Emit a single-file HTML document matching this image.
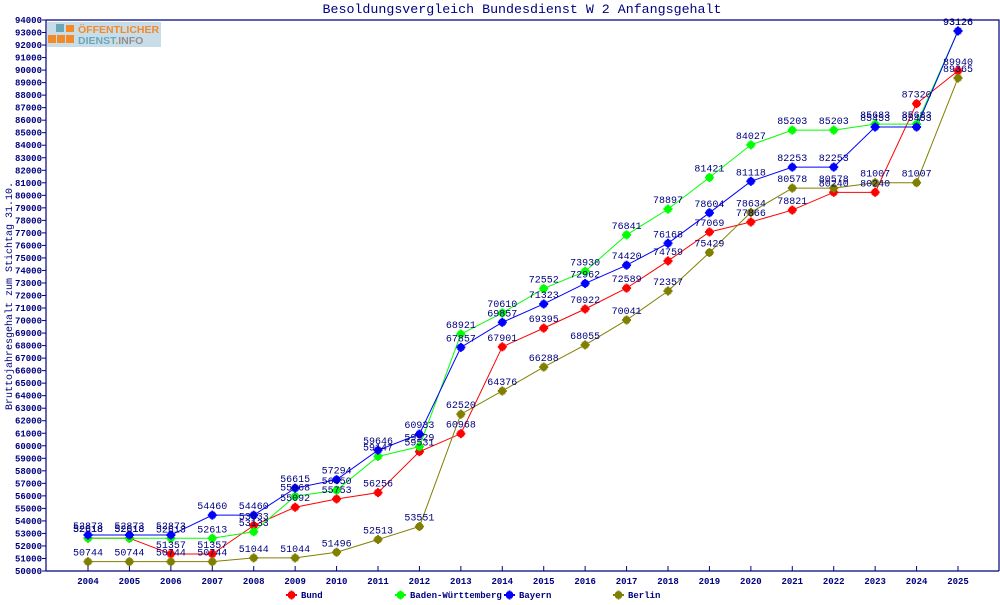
<!DOCTYPE html>
<html><head><meta charset="utf-8"><style>
body{margin:0;background:#fff}
svg text{font-family:"Liberation Mono","DejaVu Sans Mono",monospace;fill:#000080}
</style></head><body>
<svg id="s" width="1000" height="600" xmlns="http://www.w3.org/2000/svg">
<rect width="1000" height="600" fill="#fff"/>
<text x="522" y="13" font-size="13.3" text-anchor="middle">Besoldungsvergleich Bundesdienst W 2 Anfangsgehalt</text>
<text transform="translate(12,296) rotate(-90)" font-size="10" text-anchor="middle">Bruttojahresgehalt zum Stichtag 31.10.</text>
<g id="logo">
<rect x="47" y="22" width="114" height="25" fill="#c9dde8"/>
<rect x="56" y="24" width="8" height="8" fill="#6aa8b8"/>
<rect x="66" y="25" width="8" height="7" fill="#f28a2a"/>
<rect x="48" y="35" width="8" height="8" fill="#f28a2a"/>
<rect x="57" y="35" width="8" height="8" fill="#f28a2a"/>
<rect x="66" y="35" width="8" height="8" fill="#f28a2a"/>
<text x="78" y="33" font-size="10.5" font-weight="bold" style="fill:#f28a2a;font-family:'Liberation Sans',sans-serif">ÖFFENTLICHER</text>
<text x="78" y="44" font-size="10.5" font-weight="bold" style="fill:#6aa8b8;font-family:'Liberation Sans',sans-serif">DIENST<tspan style="fill:#f28a2a">.</tspan><tspan style="fill:#909090">INFO</tspan></text>
</g>
<g id="g"></g>
</svg>
<script>
var NS="http://www.w3.org/2000/svg",g=document.getElementById("g");
function el(n,a,t){var e=document.createElementNS(NS,n);for(var k in a)e.setAttribute(k,a[k]);if(t!=null)e.textContent=t;g.appendChild(e);return e;}
var L=46,R=999,T=20,B=571;
function Y(v){return B-(v-50000)*(B-T)/44000;}
function X(i){return 88+i*(958-88)/21;}
el("polyline",{points:L+","+T+" "+R+","+T+" "+R+","+B,fill:"none",stroke:"#000080","stroke-width":1.2});
el("line",{x1:L,y1:T,x2:L,y2:B,stroke:"#000080","stroke-width":1.2});
el("line",{x1:L,y1:B,x2:R,y2:B,stroke:"#000080","stroke-width":1.2});
for(var v=50000;v<=94000;v+=1000){var y=Y(v);el("line",{x1:L-4,y1:y,x2:L,y2:y,stroke:"#000080"});el("text",{x:42,y:y+3,"font-size":9,"font-weight":"bold","text-anchor":"end"},String(v));}
for(var i=0;i<22;i++){var x=X(i);el("line",{x1:x,y1:B-5,x2:x,y2:B,stroke:"#000080"});el("text",{x:x,y:584,"font-size":9,"font-weight":"bold","text-anchor":"middle"},String(2004+i));}
var S=[
["#ff0000",[52618,52618,51357,51357,53633,55092,55753,56256,59531,60968,67901,69395,70922,72589,74759,77069,77866,78821,80240,80240,87320,89940],"Bund",286],
["#00ff00",[52618,52618,52613,52613,53133,55968,56450,59147,59929,68921,70610,72552,73930,76841,78897,81421,84027,85203,85203,85683,85683,93126],"Baden-Württemberg",395],
["#0000ff",[52873,52873,52873,54460,54460,56615,57294,59646,60933,67857,69857,71323,72962,74420,76168,78604,81118,82253,82253,85453,85453,93126],"Bayern",504],
["#808000",[50744,50744,50744,50744,51044,51044,51496,52513,53551,62520,64376,66288,68055,70041,72357,75429,78634,80578,80578,81007,81007,89365],"Berlin",613]];
function mk(x,y,c){el("rect",{x:x-3.5,y:y-2.5,width:7,height:5,fill:c});el("rect",{x:x-2.5,y:y-3.5,width:5,height:7,fill:c});el("rect",{x:x-1,y:y-4.5,width:2,height:9,fill:c});el("rect",{x:x-4.5,y:y-1,width:9,height:2,fill:c});}
S.forEach(function(s){var p=s[1].map(function(v,i){return X(i)+","+Y(v)}).join(" ");el("polyline",{points:p,fill:"none",stroke:s[0],"stroke-width":1});});
S.forEach(function(s){s[1].forEach(function(v,i){mk(X(i),Y(v),s[0]);});});
S.forEach(function(s){s[1].forEach(function(v,i){el("text",{x:X(i),y:Y(v)-6,"font-size":10,"text-anchor":"middle"},String(v));});
 var lx=s[3];el("line",{x1:lx,y1:595,x2:lx+11,y2:595,stroke:s[0],"stroke-width":2});mk(lx+5.5,595,s[0]);
 el("text",{x:lx+15,y:598,"font-size":9,"font-weight":"bold"},s[2]);});
</script>
</body></html>
